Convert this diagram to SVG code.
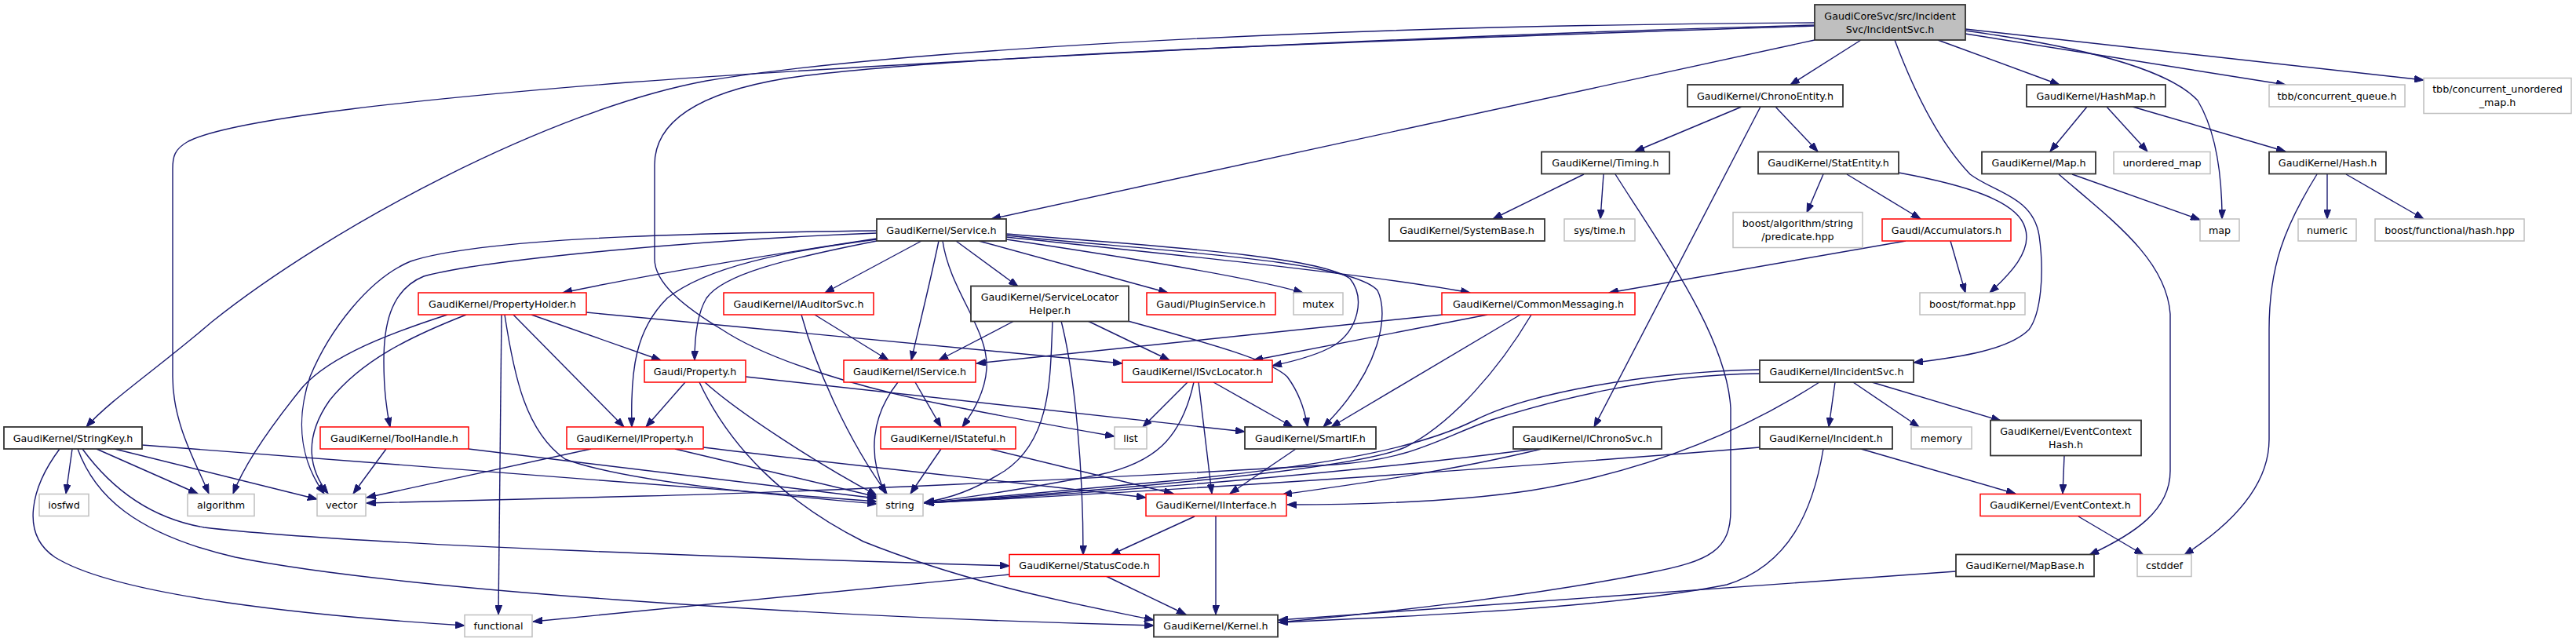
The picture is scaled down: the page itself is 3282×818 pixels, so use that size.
<svg xmlns="http://www.w3.org/2000/svg" width="3282" height="818" viewBox="0 0 3282 818">
<style>
rect{fill:#ffffff;stroke-width:1.5}
.b{stroke:#333333;stroke-width:1.8}
.r{stroke:#ff0000}
.g{stroke:#bfbfbf}
.t{fill:#bfbfbf;stroke:#333333;stroke-width:1.8}
text{font-family:"DejaVu Sans","Liberation Sans",sans-serif;font-size:12.7px;fill:#000000;text-anchor:middle}
.e path{fill:none;stroke:#191970;stroke-width:1.4;marker-end:url(#a)}
</style>
<defs>
<marker id="a" markerUnits="userSpaceOnUse" markerWidth="13" markerHeight="9" refX="12" refY="4.5" orient="auto">
<path d="M0,0 L12,4.5 L0,9 z" fill="#191970" stroke="#191970" stroke-width="1"/>
</marker>
</defs>
<rect x="0" y="0" width="3282" height="818" style="fill:#ffffff;stroke:none"/>
<g class="e" id="edges">
<path d="M2312,51 L1263,279"/>
<path d="M2371,51 L2281,108"/>
<path d="M2469,51 L2624,108"/>
<path d="M2504,43 L2912,108"/>
<path d="M2504,37 L3088,102"/>
<path d="M2504,39 C2640,58 2760,85 2800,128 C2825,170 2831,230 2831,279"/>
<path d="M2414,51 C2440,120 2470,180 2510,222 C2540,245 2590,250 2598,300 C2605,350 2600,400 2585,420 C2560,445 2500,455 2438,462"/>
<path d="M2312,29 C1600,33 1100,70 900,103 C700,140 420,290 270,410 C200,470 140,510 110,544"/>
<path d="M2312,32 C1700,48 1000,90 800,105 C550,125 300,150 240,180 C222,190 220,200 220,215 L220,480 C220,540 250,590 266,629"/>
<path d="M2312,33 C1800,50 1200,70 1000,100 C880,120 834,160 834,210 L834,330 C834,360 870,390 920,420 C980,460 1100,495 1200,515 C1300,535 1380,549 1420,556"/>
<path d="M2219,136 L2083,193"/>
<path d="M2262,136 L2316,193"/>
<path d="M2243,136 L2031,544"/>
<path d="M2018,222 L1902,279"/>
<path d="M2043,222 L2039,279"/>
<path d="M2058,222 C2120,320 2200,430 2205,520 L2205,650 C2205,700 2180,715 2100,730 C1950,760 1750,782 1629,793"/>
<path d="M2323,222 L2302,271"/>
<path d="M2353,222 L2447,279"/>
<path d="M2419,220 C2500,235 2570,255 2580,290 C2590,320 2560,350 2535,373"/>
<path d="M2485,307 L2504,373"/>
<path d="M2428,307 L2050,373"/>
<path d="M2659,136 L2612,193"/>
<path d="M2684,136 L2736,193"/>
<path d="M2717,136 L2912,193"/>
<path d="M2640,222 L2803,280"/>
<path d="M2623,222 C2690,280 2760,330 2765,400 L2765,600 C2765,650 2720,680 2662,707"/>
<path d="M2965,222 L2965,279"/>
<path d="M2989,222 L3088,279"/>
<path d="M2952,222 C2910,290 2891,340 2891,420 L2891,560 C2891,620 2840,670 2783,707"/>
<path d="M2492,728 L1629,790"/>
<path d="M2630,581 L2628,629"/>
<path d="M2648,658 L2731,707"/>
<path d="M2361,487 L2445,544"/>
<path d="M2385,487 L2549,536"/>
<path d="M2338,487 L2330,544"/>
<path d="M2318,487 C2220,550 2100,600 1950,625 C1850,640 1720,643 1640,643"/>
<path d="M2242,471 C2100,474 1950,500 1880,535 C1810,570 1700,592 1500,612 C1350,625 1250,635 1178,641"/>
<path d="M2242,476 C2100,478 1980,510 1900,535 C1830,560 1800,585 1700,592 C1400,610 1000,628 820,632 C650,636 520,640 467,641"/>
<path d="M2371,572 L2568,629"/>
<path d="M2323,572 C2310,650 2280,720 2200,745 C2050,775 1800,785 1629,793"/>
<path d="M2242,570 C1900,598 1500,625 1178,641"/>
<path d="M1964,572 C1850,600 1720,618 1634,630"/>
<path d="M1956,572 C1700,605 1400,628 1178,641"/>
<path d="M1838,401 L1244,463"/>
<path d="M1895,401 L1597,459"/>
<path d="M1937,401 L1696,544"/>
<path d="M1951,401 C1910,470 1850,540 1790,570 C1720,600 1400,625 1178,641"/>
<path d="M1117,304 C1000,322 850,345 717,373"/>
<path d="M1117,294 C950,296 620,300 523,333 C470,355 420,420 395,480 C375,540 385,590 413,629"/>
<path d="M1117,297 C900,305 620,330 540,352 C495,370 489,420 489,460 C489,500 494,530 497,544"/>
<path d="M1117,305 C1000,320 900,340 850,380 C810,420 803,470 805,544"/>
<path d="M1117,307 C1000,330 920,350 900,380 C888,400 885,430 885,459"/>
<path d="M1174,307 L1051,373"/>
<path d="M1196,307 C1185,360 1170,420 1161,459"/>
<path d="M1201,307 C1210,370 1260,420 1257,470 C1255,500 1240,525 1226,544"/>
<path d="M1218,307 L1297,365"/>
<path d="M1247,307 L1488,373"/>
<path d="M1282,305 C1450,330 1600,355 1660,373"/>
<path d="M1282,302 C1500,325 1750,350 1873,373"/>
<path d="M1282,298 C1450,312 1680,325 1720,355 C1740,380 1730,420 1700,440 C1680,452 1650,460 1621,466"/>
<path d="M1282,300 C1450,318 1720,330 1755,370 C1770,400 1760,470 1686,544"/>
<path d="M570,401 C480,430 410,460 380,500 C340,550 310,595 297,629"/>
<path d="M594,401 C520,430 460,460 420,510 C385,560 395,600 418,629"/>
<path d="M639,401 L635,783"/>
<path d="M643,401 C655,480 670,550 720,585 C800,615 1000,632 1117,642"/>
<path d="M654,401 L795,544"/>
<path d="M677,401 L842,459"/>
<path d="M747,398 L1430,463"/>
<path d="M873,487 L823,544"/>
<path d="M898,487 C940,525 1040,590 1117,631"/>
<path d="M891,487 C930,570 1000,640 1100,690 C1250,750 1400,775 1470,790"/>
<path d="M950,480 L1586,550"/>
<path d="M1038,401 L1132,459"/>
<path d="M1021,401 C1040,470 1080,560 1130,629"/>
<path d="M1292,409 L1196,459"/>
<path d="M1386,409 L1490,459"/>
<path d="M1437,409 C1550,440 1620,460 1640,480 C1655,500 1662,520 1666,544"/>
<path d="M1341,409 C1338,480 1340,560 1280,600 C1240,625 1210,635 1178,640"/>
<path d="M1352,409 C1370,480 1380,600 1380,707"/>
<path d="M1166,487 L1199,544"/>
<path d="M1144,487 C1110,530 1105,580 1128,629"/>
<path d="M1199,572 L1160,629"/>
<path d="M1261,572 L1495,629"/>
<path d="M1513,487 L1456,544"/>
<path d="M1521,487 C1505,560 1470,590 1400,605 C1320,620 1230,635 1178,640"/>
<path d="M1527,487 L1544,629"/>
<path d="M1546,487 L1647,544"/>
<path d="M1651,572 L1567,629"/>
<path d="M1522,658 L1415,707"/>
<path d="M1549,658 L1549,783"/>
<path d="M1409,734 L1511,783"/>
<path d="M1286,732 L679,792"/>
<path d="M753,572 L467,634"/>
<path d="M860,572 L1117,633"/>
<path d="M896,570 C1100,595 1300,615 1460,634"/>
<path d="M492,572 L450,629"/>
<path d="M597,572 L1117,635"/>
<path d="M92,572 L84,629"/>
<path d="M123,572 L252,629"/>
<path d="M146,572 L404,636"/>
<path d="M181,567 L1117,639"/>
<path d="M76,572 C40,620 25,680 70,710 C150,760 400,785 592,797"/>
<path d="M105,572 C140,620 190,660 260,672 C450,695 1000,712 1286,721"/>
<path d="M99,572 C120,630 170,680 300,710 C500,750 1000,785 1470,797"/>
</g>
<g id="n_title"><rect class="t" x="2312" y="6" width="192" height="45"/><text x="2408" y="24.5">GaudiCoreSvc/src/Incident</text><text x="2408" y="41.5">Svc/IncidentSvc.h</text></g>
<g id="n_chronoentity"><rect class="b" x="2150" y="108" width="198" height="28"/><text x="2249" y="126.5">GaudiKernel/ChronoEntity.h</text></g>
<g id="n_hashmap"><rect class="b" x="2582" y="108" width="177" height="28"/><text x="2670.5" y="126.5">GaudiKernel/HashMap.h</text></g>
<g id="n_tbbqueue"><rect class="g" x="2891" y="108" width="173" height="28"/><text x="2977.5" y="126.5">tbb/concurrent_queue.h</text></g>
<g id="n_tbbumap"><rect class="g" x="3088" y="99.5" width="188" height="45"/><text x="3182" y="118">tbb/concurrent_unordered</text><text x="3182" y="135">_map.h</text></g>
<g id="n_timing"><rect class="b" x="1964" y="193.5" width="163" height="28"/><text x="2045.5" y="212">GaudiKernel/Timing.h</text></g>
<g id="n_statentity"><rect class="b" x="2240" y="193.5" width="179" height="28"/><text x="2329.5" y="212">GaudiKernel/StatEntity.h</text></g>
<g id="n_map_h"><rect class="b" x="2525" y="193.5" width="145" height="28"/><text x="2597.5" y="212">GaudiKernel/Map.h</text></g>
<g id="n_unordered_map"><rect class="g" x="2693" y="193.5" width="123" height="28"/><text x="2754.5" y="212">unordered_map</text></g>
<g id="n_hash"><rect class="b" x="2891" y="193.5" width="149" height="28"/><text x="2965.5" y="212">GaudiKernel/Hash.h</text></g>
<g id="n_service"><rect class="b" x="1117" y="279" width="165" height="28"/><text x="1199.5" y="297.5">GaudiKernel/Service.h</text></g>
<g id="n_systembase"><rect class="b" x="1770" y="279" width="198" height="28"/><text x="1869" y="297.5">GaudiKernel/SystemBase.h</text></g>
<g id="n_systime"><rect class="g" x="1993" y="279" width="90" height="28"/><text x="2038" y="297.5">sys/time.h</text></g>
<g id="n_predicate"><rect class="g" x="2208" y="270.5" width="165" height="45"/><text x="2290.5" y="289">boost/algorithm/string</text><text x="2290.5" y="306">/predicate.hpp</text></g>
<g id="n_accumulators"><rect class="r" x="2398" y="279" width="164" height="28"/><text x="2480" y="297.5">Gaudi/Accumulators.h</text></g>
<g id="n_map"><rect class="g" x="2803" y="279" width="50" height="28"/><text x="2828" y="297.5">map</text></g>
<g id="n_numeric"><rect class="g" x="2928" y="279" width="74" height="28"/><text x="2965" y="297.5">numeric</text></g>
<g id="n_boosthash"><rect class="g" x="3026" y="279" width="190" height="28"/><text x="3121" y="297.5">boost/functional/hash.hpp</text></g>
<g id="n_propertyholder"><rect class="r" x="533" y="373" width="214" height="28"/><text x="640" y="391.5">GaudiKernel/PropertyHolder.h</text></g>
<g id="n_iauditorsvc"><rect class="r" x="922" y="373" width="191" height="28"/><text x="1017.5" y="391.5">GaudiKernel/IAuditorSvc.h</text></g>
<g id="n_servicelocatorhelper"><rect class="b" x="1237" y="364.5" width="201" height="45"/><text x="1337.5" y="383">GaudiKernel/ServiceLocator</text><text x="1337.5" y="400">Helper.h</text></g>
<g id="n_pluginservice"><rect class="r" x="1461" y="373" width="164" height="28"/><text x="1543" y="391.5">Gaudi/PluginService.h</text></g>
<g id="n_mutex"><rect class="g" x="1648" y="373" width="63" height="28"/><text x="1679.5" y="391.5">mutex</text></g>
<g id="n_commonmessaging"><rect class="r" x="1837" y="373" width="246" height="28"/><text x="1960" y="391.5">GaudiKernel/CommonMessaging.h</text></g>
<g id="n_boostformat"><rect class="g" x="2446" y="373" width="134" height="28"/><text x="2513" y="391.5">boost/format.hpp</text></g>
<g id="n_property"><rect class="r" x="821" y="459" width="129" height="28"/><text x="885.5" y="477.5">Gaudi/Property.h</text></g>
<g id="n_iservice"><rect class="r" x="1075" y="459" width="168" height="28"/><text x="1159" y="477.5">GaudiKernel/IService.h</text></g>
<g id="n_isvclocator"><rect class="r" x="1430" y="459" width="191" height="28"/><text x="1525.5" y="477.5">GaudiKernel/ISvcLocator.h</text></g>
<g id="n_iincidentsvc"><rect class="b" x="2242" y="459" width="196" height="28"/><text x="2340" y="477.5">GaudiKernel/IIncidentSvc.h</text></g>
<g id="n_stringkey"><rect class="b" x="5" y="544" width="176" height="28"/><text x="93" y="562.5">GaudiKernel/StringKey.h</text></g>
<g id="n_toolhandle"><rect class="r" x="408" y="544" width="189" height="28"/><text x="502.5" y="562.5">GaudiKernel/ToolHandle.h</text></g>
<g id="n_iproperty"><rect class="r" x="722" y="544" width="174" height="28"/><text x="809" y="562.5">GaudiKernel/IProperty.h</text></g>
<g id="n_istateful"><rect class="r" x="1122" y="544" width="172" height="28"/><text x="1208" y="562.5">GaudiKernel/IStateful.h</text></g>
<g id="n_list"><rect class="g" x="1420" y="544" width="41" height="28"/><text x="1440.5" y="562.5">list</text></g>
<g id="n_smartif"><rect class="b" x="1586" y="544" width="167" height="28"/><text x="1669.5" y="562.5">GaudiKernel/SmartIF.h</text></g>
<g id="n_ichronosvc"><rect class="b" x="1928" y="544" width="189" height="28"/><text x="2022.5" y="562.5">GaudiKernel/IChronoSvc.h</text></g>
<g id="n_incident"><rect class="b" x="2242" y="544" width="169" height="28"/><text x="2326.5" y="562.5">GaudiKernel/Incident.h</text></g>
<g id="n_memory"><rect class="g" x="2435" y="544" width="77" height="28"/><text x="2473.5" y="562.5">memory</text></g>
<g id="n_eventcontexthash"><rect class="b" x="2536" y="535.5" width="192" height="45"/><text x="2632" y="554">GaudiKernel/EventContext</text><text x="2632" y="571">Hash.h</text></g>
<g id="n_iosfwd"><rect class="g" x="50" y="629.5" width="63" height="28"/><text x="81.5" y="648">iosfwd</text></g>
<g id="n_algorithm"><rect class="g" x="239" y="629.5" width="85" height="28"/><text x="281.5" y="648">algorithm</text></g>
<g id="n_vector"><rect class="g" x="404" y="629.5" width="62" height="28"/><text x="435" y="648">vector</text></g>
<g id="n_string"><rect class="g" x="1117" y="629.5" width="59" height="28"/><text x="1146.5" y="648">string</text></g>
<g id="n_iinterface"><rect class="r" x="1460" y="629.5" width="179" height="28"/><text x="1549.5" y="648">GaudiKernel/IInterface.h</text></g>
<g id="n_eventcontext"><rect class="r" x="2523" y="629.5" width="204" height="28"/><text x="2625" y="648">GaudiKernel/EventContext.h</text></g>
<g id="n_statuscode"><rect class="r" x="1286" y="706.5" width="191" height="28"/><text x="1381.5" y="725">GaudiKernel/StatusCode.h</text></g>
<g id="n_mapbase"><rect class="b" x="2492" y="706.5" width="176" height="28"/><text x="2580" y="725">GaudiKernel/MapBase.h</text></g>
<g id="n_cstddef"><rect class="g" x="2723" y="706.5" width="69" height="28"/><text x="2757.5" y="725">cstddef</text></g>
<g id="n_functional"><rect class="g" x="592" y="783.5" width="86" height="28"/><text x="635" y="802">functional</text></g>
<g id="n_kernel"><rect class="b" x="1470" y="783.5" width="158" height="28"/><text x="1549" y="802">GaudiKernel/Kernel.h</text></g>
</svg>
